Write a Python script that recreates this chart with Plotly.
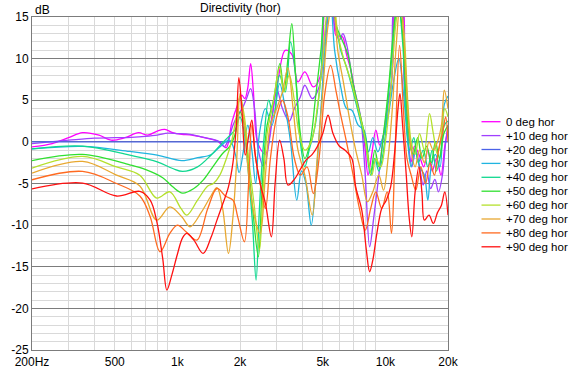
import math
import plotly.graph_objects as go

# ---------------- data (frequency in Hz, level in dB) ----------------
f_0 = [200,250,300,350,420,480,560,650,720,800,870,950,1050,1150,1300,1430,1550,1650,1720,1830,1950,2040,2110,2180,2250,2320,2400,2500,2650,2850,3050,3300,3550,3800,4100,4500,4850,5200,5500,5780,6000,6230,6500,6860,7300,7730,8000,8250,8600,9000,9400,9900,10400,10900,11300,11900,12400,12800,13300,13800,14500,15300,16000,16800,17600,18500,19300,20000]
db_0 = [-0.6,-0.2,0.5,1.1,0.8,0.2,0.5,1.1,0.8,1.3,1.5,1.1,0.9,0.85,0.6,0.35,0.1,-0.4,-0.7,2.4,4.5,5.6,5.2,6.5,9.4,6.0,0.5,-0.8,-1.5,3.0,7.5,11.0,10.5,7.2,8.4,6.6,7.8,17.0,17.5,12.8,12.7,12.6,10.5,8.4,4.5,2.0,-1.0,-4.0,-1.5,1.4,-0.4,1.2,4.0,10.0,17.0,17.0,8.0,0.5,-2.4,-0.5,-1.5,-3.0,-1.0,-3.5,-2.0,-4.0,-0.5,1.5]

f_10 = [200,300,400,500,600,700,800,900,1000,1150,1300,1450,1600,1680,1760,1850,1950,2050,2150,2250,2350,2450,2600,2800,3000,3200,3450,3650,3900,4100,4450,4800,5100,5400,5700,6000,6250,6500,7000,7600,8000,8400,8800,9300,9700,10200,10700,11200,11800,12300,12800,13400,14000,14600,15200,15800,16500,17300,18000,18800,19500,20000]
db_10 = [-0.2,0.2,0.45,0.5,0.55,0.65,0.8,1.05,1.0,0.9,0.6,0.35,0.0,-0.6,0.3,2.0,3.2,4.0,5.2,6.4,4.0,-1.0,-3.0,1.0,6.4,4.0,2.5,4.0,5.4,6.8,5.2,6.6,12.0,17.0,14.0,12.2,13.0,11.8,7.0,3.0,-4.0,-12.6,-9.0,-4.0,0.0,4.0,7.2,17.0,17.0,7.2,1.0,-3.0,-1.0,-3.0,-5.2,-3.5,-5.6,-4.5,-6.0,-4.0,0.0,2.0]

f_20 = [200, 20000]
db_20 = [0.0, 0.0]

f_30 = [200,350,590,800,1050,1250,1450,1600,1780,1900,1980,2080,2180,2280,2380,2480,2650,2850,3100,3300,3500,3750,3950,4150,4400,4650,4900,5200,5450,5700,6100,6500,6900,7400,7900,8300,8700,9200,9700,10300,10900,11600,12200,12800,13300,13900,14600,15400,16000,16600,17400,18300,19200,20000]
db_30 = [-0.85,-0.55,-1.15,-1.6,-2.25,-1.9,-1.55,-0.6,0.2,-1.5,-3.7,-1.0,2.0,-1.0,-5.0,1.0,4.0,2.0,7.0,4.0,0.0,-7.0,-3.5,-5.0,-10.0,-4.0,4.0,13.0,17.0,11.0,6.6,4.0,3.8,2.0,1.4,-1.2,0.5,-1.2,0.5,3.0,7.0,10.0,6.0,0.0,-3.0,-1.0,-3.0,-4.0,-7.0,-3.0,-1.5,-3.0,4.5,5.5]

f_40 = [200,350,590,800,950,1060,1250,1450,1620,1760,1900,2000,2100,2200,2300,2390,2480,2600,2750,2900,3100,3300,3500,3700,3900,4100,4300,4600,4900,5200,5500,5800,6100,6500,7000,7500,8000,8500,8900,9300,9800,10300,10900,11500,12100,12600,13100,13700,14400,15200,16000,16800,17600,18400,19200,20000]
db_40 = [-0.85,-0.5,-1.6,-2.4,-3.2,-3.55,-3.0,-1.6,-0.3,0.6,1.5,3.0,1.0,-4.0,-10.0,-16.6,-8.0,0.0,5.0,3.0,8.0,6.0,12.0,8.0,0.0,-3.0,-1.0,2.0,8.0,17.0,17.0,14.0,11.0,9.0,6.0,3.0,0.0,-4.0,-2.0,-3.5,-1.0,5.0,12.0,17.0,12.0,3.0,-1.0,0.5,-2.5,-1.0,-3.0,-1.0,-3.5,-1.5,2.0,2.5]

f_50 = [200,350,590,700,850,950,1060,1200,1330,1480,1650,1790,1900,2000,2100,2200,2300,2450,2550,2700,2900,3110,3250,3400,3550,3700,3900,4100,4350,4600,4900,5200,5500,5800,6200,6600,7000,7600,8100,8500,8900,9300,9800,10400,11000,11500,12100,12600,13100,13600,14300,15000,15800,16600,17400,18200,19100,20000]
db_50 = [-2.25,-1.5,-2.75,-3.3,-4.3,-5.4,-6.15,-5.6,-4.6,-3.0,-1.4,-0.5,1.0,3.6,2.0,-3.0,-8.0,-13.8,-6.0,2.0,5.0,9.4,6.0,10.0,14.2,8.0,1.0,-2.0,0.0,5.0,11.0,17.0,17.5,14.0,12.2,10.5,7.0,3.0,0.0,-3.6,-1.0,-3.0,1.0,7.0,14.0,17.0,13.0,5.0,0.0,-1.5,0.5,-2.0,-0.5,-2.5,0.0,-2.0,1.0,2.0]

f_60 = [200,350,510,660,795,920,1040,1110,1250,1400,1490,1600,1720,1820,1920,2000,2100,2200,2350,2480,2580,2700,2900,3100,3250,3450,3650,3850,4100,4400,4700,5000,5300,5600,5900,6300,6850,7400,7900,8600,9000,9500,10000,10600,11200,11700,12300,12800,13300,13900,14600,15400,16300,17000,17800,18600,19300,20000]
db_60 = [-3.15,-1.75,-3.0,-4.0,-6.75,-6.0,-8.0,-8.8,-7.0,-5.3,-5.0,-4.0,-2.0,0.0,3.0,5.5,3.0,-2.0,-8.0,-13.0,-6.0,1.0,5.0,9.0,6.0,8.0,5.0,1.0,-1.0,0.0,4.0,10.0,16.0,17.0,13.0,10.0,7.2,4.0,1.0,-4.0,-2.0,-3.0,0.0,6.0,14.0,17.0,13.0,5.0,0.0,-1.5,1.0,-1.0,3.4,1.0,-1.5,1.0,4.0,3.0]

f_70 = [200,350,510,660,795,920,1050,1150,1300,1450,1550,1650,1760,1850,1930,2000,2100,2200,2350,2500,2650,2800,3000,3200,3400,3600,3800,4100,4450,4700,5000,5300,5600,5900,6300,6700,7200,7700,8200,8700,9300,9800,10300,10800,11300,11800,12300,12800,13300,13900,14600,15400,16200,17000,17800,18600,19200,20000]
db_70 = [-3.75,-2.35,-4.0,-5.3,-9.4,-7.8,-9.0,-10.2,-8.5,-6.5,-5.5,-8.0,-13.4,-9.0,-2.0,5.8,2.0,-4.0,-9.0,-11.0,-4.0,2.0,4.0,6.0,8.9,4.0,-1.0,-4.0,-8.8,-2.0,6.0,14.0,17.0,11.0,7.0,3.0,-1.0,-4.0,-7.2,-6.0,-4.0,-5.8,-2.0,4.0,12.0,17.0,12.0,4.0,-1.0,-3.0,-1.0,-2.5,0.0,-1.0,0.0,2.0,6.2,4.0]

f_80 = [200,350,510,660,740,825,920,1000,1100,1240,1400,1550,1700,1850,1950,2100,2200,2280,2380,2500,2650,2800,3000,3200,3400,3650,3900,4200,4500,4800,5100,5450,5800,6100,6500,7000,7500,8000,8500,9000,9600,10200,10700,11100,11700,12200,12700,13300,14000,14800,15600,16400,17200,18000,18800,19500,20000]
db_80 = [-4.55,-3.55,-5.0,-6.5,-9.0,-13.2,-11.0,-10.0,-10.8,-11.8,-8.0,-5.6,-6.5,-7.0,-9.0,-12.0,-5.0,2.0,-2.0,-5.0,-8.0,-2.0,3.0,5.0,3.0,-2.0,-4.0,-3.0,-6.2,-2.0,5.6,9.2,6.0,3.2,0.0,-4.0,-8.0,-10.6,-8.0,-6.0,-8.0,-6.0,-11.0,-2.0,11.6,4.0,-2.0,-4.0,-5.8,-3.0,-5.0,-2.5,-4.0,-1.0,1.0,3.0,0.0]

f_90 = [200,350,510,660,740,795,850,890,940,1000,1060,1110,1200,1330,1450,1550,1650,1760,1850,1920,1975,2040,2120,2210,2280,2360,2500,2650,2830,2950,3100,3250,3400,3650,3880,4150,4450,4700,5000,5300,5600,6000,6400,6900,7200,7700,8100,8400,8700,9100,9600,10100,10600,11100,11500,11750,12100,12600,13000,13400,13900,14500,15000,15400,16200,17000,17800,18600,19300,20000]
db_90 = [-5.65,-4.95,-6.5,-5.95,-7.0,-9.5,-14.0,-17.8,-16.0,-13.5,-11.5,-11.0,-11.8,-13.4,-11.5,-9.4,-7.5,-5.4,-2.5,2.0,7.7,4.0,-1.6,1.0,2.6,-1.3,-5.0,-7.4,-11.4,-5.0,0.2,-2.0,-5.2,-4.5,-3.4,-2.2,-1.5,-0.6,1.0,3.2,1.0,-0.5,-1.0,-2.0,-5.4,-8.2,-13.0,-15.6,-14.2,-11.0,-8.0,-7.0,-5.4,-1.0,4.0,5.8,2.0,-4.0,-9.0,-11.4,-6.0,-3.0,-6.2,-9.4,-8.8,-9.8,-8.5,-7.6,-6.0,-8.8]

series_names = ["0 deg hor", "+10 deg hor", "+20 deg hor", "+30 deg hor", "+40 deg hor",
                "+50 deg hor", "+60 deg hor", "+70 deg hor", "+80 deg hor", "+90 deg hor"]
series_colors = ["#ff00ff", "#a040ff", "#4a62e8", "#20b4e0", "#10d890",
                 "#30e030", "#b4e02c", "#e8a830", "#ff6a20", "#ff1010"]
x_tickvals = [200, 500, 1000, 2000, 5000, 10000, 20000]
x_ticktext = ["200Hz", "500", "1k", "2k", "5k", "10k", "20k"]
y_tickvals = [-25, -20, -15, -10, -5, 0, 5, 10, 15]
y_ticktext = ["-25", "-20", "-15", "-10", "-5", "0", "5", "10", "15"]
x_minor = [300, 400, 500, 600, 700, 800, 900, 2000, 3000, 4000, 5000, 6000, 7000, 8000, 9000]
x_major = [1000, 10000]

freqs = [f_0, f_10, f_20, f_30, f_40, f_50, f_60, f_70, f_80, f_90]
levels = [db_0, db_10, db_20, db_30, db_40, db_50, db_60, db_70, db_80, db_90]

# ---------------- figure ----------------
W, H = 572, 368
L, R, T, B = 32, 124, 17, 18
PW, PH = W - L - R, H - T - B
FONT = "Liberation Sans, Arial, sans-serif"
LIGHT = "#d9d9d9"
DARK = "#7c7c7c"

fig = go.Figure()
for f, d, c, n in zip(freqs, levels, series_colors, series_names):
    assert len(f) == len(d), n
    fig.add_trace(go.Scatter(x=f, y=d, mode="lines", name=n, showlegend=False,
                             hoverinfo="skip",
                             line=dict(color=c, width=1.3, shape="spline", smoothing=1.0)))

shapes = []
for v in x_major:
    shapes.append(dict(type="line", xref="x", yref="paper", x0=math.log10(v), x1=math.log10(v),
                       y0=0, y1=1, line=dict(color=DARK, width=1), layer="between"))

annotations = []
# manual legend
for i, (n, c) in enumerate(zip(series_names, series_colors)):
    ypx = 121.7 + i * 13.9
    yp = (H - B - ypx) / PH
    shapes.append(dict(type="line", xref="paper", yref="paper",
                       x0=(481.5 - L) / PW, x1=(500.5 - L) / PW, y0=yp, y1=yp,
                       line=dict(color=c, width=1.3)))
    annotations.append(dict(xref="paper", yref="paper", x=(504 - L) / PW, y=yp, text=n,
                            showarrow=False, xanchor="left", yanchor="middle",
                            font=dict(family=FONT, size=11.5, color="#000000")))

annotations.append(dict(xref="paper", yref="paper", x=0.5, y=(H - B - 8) / PH,
                        text="Directivity (hor)", showarrow=False, xanchor="center",
                        yanchor="middle", font=dict(family=FONT, size=12, color="#000000")))
annotations.append(dict(xref="paper", yref="paper", x=(33 - L) / PW, y=(H - B - 10) / PH,
                        text="dB", showarrow=False, xanchor="left", yanchor="middle",
                        font=dict(family=FONT, size=12, color="#000000")))

fig.update_layout(
    width=W, height=H,
    margin=dict(l=L, r=R, t=T, b=B, pad=0, autoexpand=False),
    paper_bgcolor="white", plot_bgcolor="white",
    font=dict(family=FONT, size=12, color="#000000"),
    showlegend=False,
    shapes=shapes, annotations=annotations,
    xaxis=dict(type="log", range=[math.log10(200), math.log10(20000)], automargin=False,
               tickvals=x_tickvals, ticktext=x_ticktext, ticks="", showgrid=False,
               ticklabelstandoff=1,
               zeroline=False, showline=True, mirror=True, linecolor=DARK, linewidth=1,
               tickfont=dict(family=FONT, size=12, color="#000000"),
               minor=dict(tickvals=x_minor, showgrid=True, gridcolor=LIGHT, gridwidth=1, ticks="")),
    yaxis=dict(range=[-25, 15], tickvals=y_tickvals, ticktext=y_ticktext, ticks="",
               automargin=False,
               showgrid=True, gridcolor=DARK, gridwidth=1, zeroline=False,
               showline=True, mirror=True, linecolor=DARK, linewidth=1,
               tickfont=dict(family=FONT, size=12, color="#000000"),
               minor=dict(dtick=1, showgrid=True, gridcolor=LIGHT, gridwidth=1, ticks="")),
)

fig.write_html("out.html", config={"displayModeBar": False},
               post_script="document.body.style.margin='0';document.body.style.overflow='hidden';")
